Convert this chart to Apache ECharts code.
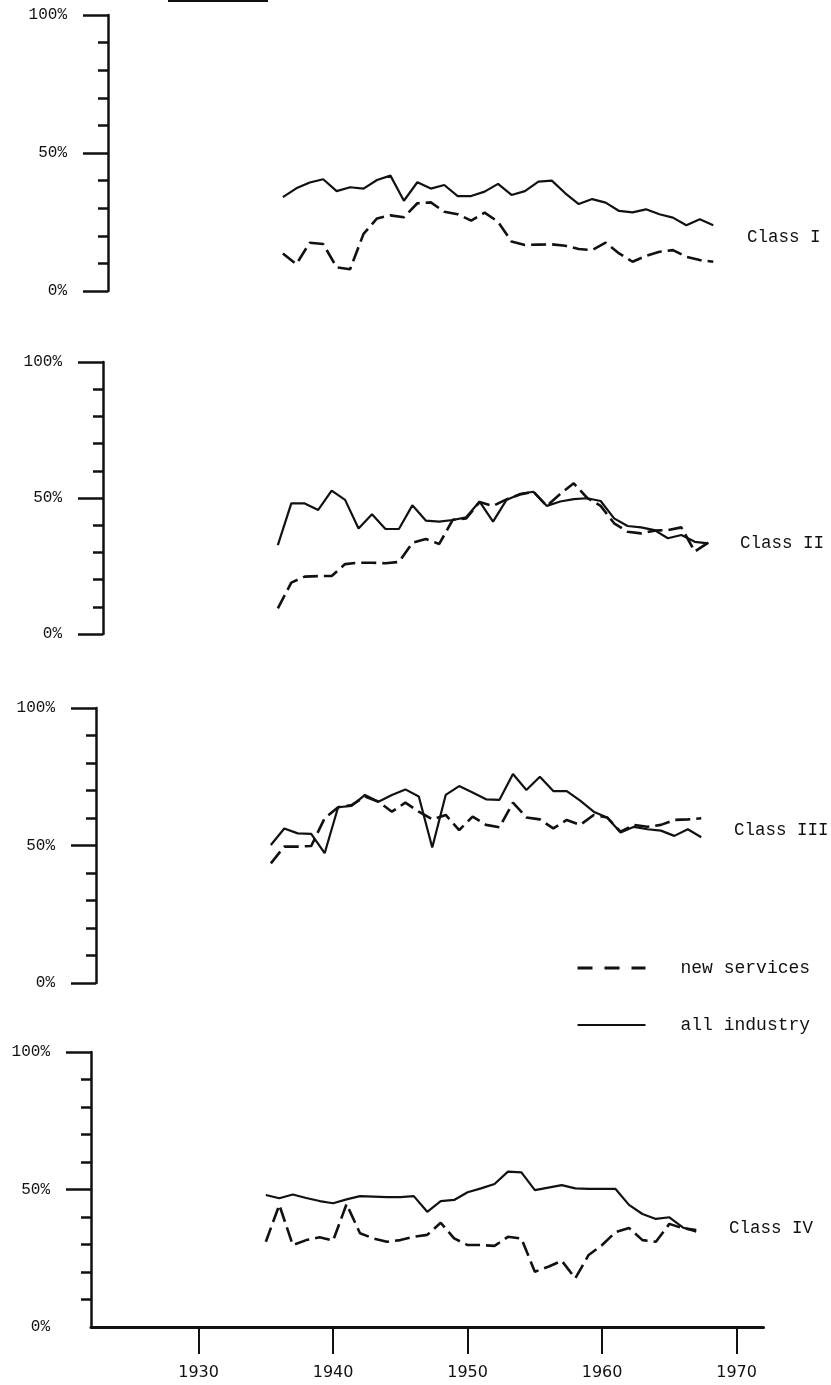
<!DOCTYPE html>
<html>
<head>
<meta charset="utf-8">
<script src="https://cdn.jsdelivr.net/npm/echarts@6/dist/echarts.min.js"></script>
<style>
  html, body { margin: 0; padding: 0; background: #fff; }
  #chart { width: 831px; height: 1385px; }
</style>
</head>
<body>
<div id="chart"></div>
<script>
// ---- data ----
const years = [1935,1936,1937,1938,1939,1940,1941,1942,1943,1944,1945,1946,1947,1948,1949,1950,1951,
               1952,1953,1954,1955,1956,1957,1958,1959,1960,1961,1962,1963,1964,1965,1966,1967];
const classLabels = ['Class I', 'Class II', 'Class III', 'Class IV'];
const xTickYears = [1930, 1940, 1950, 1960, 1970];
const yMajorTicks = [0, 50, 100];

const classI_all = [34.0,37.2,39.3,40.5,36.2,37.6,37.1,40.2,41.8,32.7,39.4,37.1,38.4,34.4,34.4,36.0,38.8,
                    34.8,36.2,39.6,40.0,35.4,31.5,33.3,32.0,29.0,28.5,29.6,27.8,26.6,23.8,26.0,23.8];
const classI_new = [13.6,9.7,17.5,17.0,8.6,7.9,20.7,26.3,27.4,26.7,31.8,32.1,28.7,27.8,25.5,28.4,25.1,
                    17.9,16.7,16.8,16.9,16.4,15.2,14.8,17.5,13.6,10.6,12.7,14.2,14.8,12.4,11.2,10.6];
const classII_all = [32.7,48.0,48.0,45.6,52.7,49.3,38.8,44.0,38.6,38.6,47.3,41.7,41.3,41.9,42.9,48.7,41.3,
                     49.3,51.5,52.3,47.1,48.7,49.6,49.9,48.9,42.5,39.7,39.2,38.2,35.2,36.4,33.9,33.3];
const classII_new = [9.4,18.9,21.1,21.3,21.3,25.7,26.2,26.2,26.0,26.5,33.5,34.9,33.1,42.0,42.5,48.5,47.1,
                     49.5,51.3,52.3,47.1,51.5,55.4,50.0,47.1,40.7,37.6,37.0,38.0,38.2,39.2,30.3,33.6];
const classIII_all = [50.2,56.2,54.4,54.2,47.2,63.9,64.4,68.4,65.9,68.4,70.4,67.8,49.3,68.4,71.6,69.3,66.8,
                      66.6,76.0,70.2,75.0,69.8,69.8,66.3,62.3,60.2,54.7,56.8,55.9,55.4,53.5,55.9,53.0];
const classIII_new = [43.5,49.6,49.6,49.8,59.9,63.9,64.7,67.8,65.9,62.3,65.6,62.3,59.5,61.1,55.6,60.5,57.5,
                      56.6,65.6,60.2,59.5,56.2,59.3,57.5,61.1,60.2,55.0,57.5,56.8,57.5,59.3,59.5,59.9];
const classIV_all = [48.0,46.8,48.2,46.9,45.8,45.0,46.4,47.6,47.4,47.2,47.2,47.6,41.9,45.8,46.2,49.0,50.4,
                     52.0,56.5,56.2,49.8,50.7,51.6,50.4,50.2,50.2,50.2,44.4,41.1,39.3,39.9,36.2,34.7];
const classIV_new = [31.0,44.4,29.8,31.6,32.6,31.4,44.7,34.1,32.2,31.0,31.6,32.8,33.5,37.9,32.2,29.8,29.8,
                     29.5,32.8,32.2,20.1,21.9,24.1,17.7,26.2,29.8,34.5,36.0,31.6,31.0,37.5,35.9,35.3];

const allIndustry = [classI_all, classII_all, classIII_all, classIV_all];
const newServices = [classI_new, classII_new, classIII_new, classIV_new];

// ---- layout (px) ----
const panels = [
  { left: 108, top: 15,   height: 276, label: [747, 228] },
  { left: 103, top: 362,  height: 272, label: [740, 534] },
  { left: 96,  top: 708,  height: 275, label: [734, 821] },
  { left: 91,  top: 1052, height: 275, label: [729, 1219] }
];
const X_MIN = 1922, X_MAX = 1972, PX_PER_YEAR = 13.45;
const MONO = '"Liberation Mono", "DejaVu Sans Mono", monospace';
const INK = '#111';

const grids = [], xAxes = [], yAxes = [], series = [], titles = [];
panels.forEach((p, i) => {
  const last = i === panels.length - 1;
  grids.push({ left: p.left, top: p.top, width: (X_MAX - X_MIN) * PX_PER_YEAR, height: p.height });
  if (last) {
    xAxes.push({
      gridIndex: i, type: 'value', min: X_MIN, max: X_MAX,
      axisLine: { show: true, lineStyle: { color: INK, width: 3 } },
      axisTick: { show: true, customValues: xTickYears, length: 27, lineStyle: { color: INK, width: 2 } },
      axisLabel: { customValues: xTickYears, margin: 38, color: INK, fontSize: 16,
                   fontFamily: '"DejaVu Sans", sans-serif', formatter: v => String(v) },
      splitLine: { show: false }
    });
  } else {
    xAxes.push({ gridIndex: i, type: 'value', min: X_MIN, max: X_MAX, show: false });
  }
  // minor ticks + axis line
  yAxes.push({
    gridIndex: i, type: 'value', position: 'left', min: 0, max: 100, interval: 10,
    axisLine: { show: true, lineStyle: { color: INK, width: 2.5 } },
    axisTick: Object.assign({ show: true, length: 10, lineStyle: { color: INK, width: 2.5 } },
                            last ? { customValues: [10,20,30,40,60,70,80,90] } : {}),
    axisLabel: { show: false },
    splitLine: { show: false }
  });
  // major ticks + labels
  yAxes.push({
    gridIndex: i, type: 'value', position: 'left', offset: 0, min: 0, max: 100, interval: 50,
    axisLine: { show: false },
    axisTick: Object.assign({ show: true, length: 25, lineStyle: { color: INK, width: 2.5 } },
                            last ? { customValues: [50, 100] } : {}),
    axisLabel: { show: true, margin: 41, color: INK, fontSize: 16, fontFamily: MONO,
                 customValues: yMajorTicks, formatter: v => v + '%' },
    splitLine: { show: false }
  });
  series.push({
    name: 'new services', type: 'line', xAxisIndex: i, yAxisIndex: 2 * i,
    data: years.map((y, k) => [y, newServices[i][k]]),
    symbol: 'none', silent: true, color: INK,
    lineStyle: { color: INK, width: 2.6, type: [15, 6] }
  });
  series.push({
    name: 'all industry', type: 'line', xAxisIndex: i, yAxisIndex: 2 * i,
    data: years.map((y, k) => [y, allIndustry[i][k]]),
    symbol: 'none', silent: true, color: INK,
    lineStyle: { color: INK, width: 2.2, type: 'solid' }
  });
  titles.push({
    text: classLabels[i], left: p.label[0], top: p.label[1], padding: 0,
    textStyle: { fontFamily: MONO, fontSize: 17.5, fontWeight: 'normal', color: INK }
  });
});

const chart = echarts.init(document.getElementById('chart'), null, { renderer: 'canvas' });
chart.setOption({
  animation: false,
  backgroundColor: '#fff',
  title: titles,
  grid: grids,
  xAxis: xAxes,
  yAxis: yAxes,
  legend: {
    orient: 'vertical', left: 571, top: 954, itemWidth: 68, itemHeight: 14, itemGap: 39,
    selectedMode: false,
    data: [
      { name: 'new services', itemStyle: { opacity: 0 }, lineStyle: { color: INK, width: 3, type: [15, 12] } },
      { name: 'all industry', itemStyle: { opacity: 0 }, lineStyle: { color: INK, width: 2, type: 'solid' } }
    ],
    textStyle: { fontFamily: MONO, fontSize: 18, color: INK, padding: [0, 0, 0, 30] }
  },
  graphic: [
    { type: 'line', shape: { x1: 168, y1: 1, x2: 268, y2: 1 }, style: { stroke: INK, lineWidth: 2 } }
  ],
  series: series
});
</script>
</body>
</html>
